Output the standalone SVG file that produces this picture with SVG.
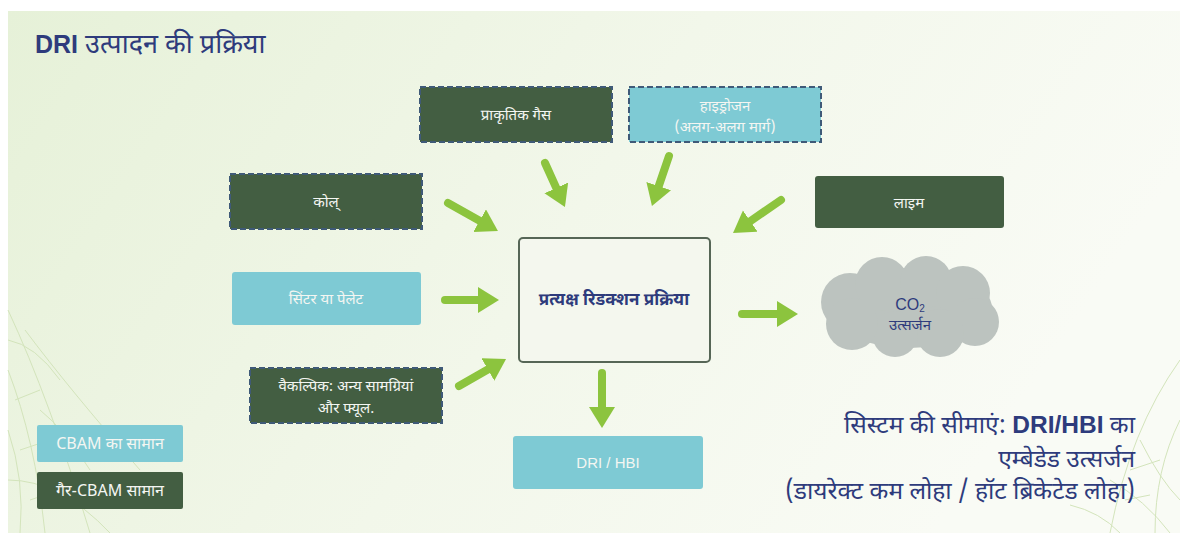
<svg xmlns="http://www.w3.org/2000/svg" width="1180" height="533" viewBox="0 0 1180 533">
<defs>
<linearGradient id="bg" x1="0" y1="0" x2="1" y2="0.3">
<stop offset="0" stop-color="#e6f1d8"/>
<stop offset="0.55" stop-color="#f2f7ea"/>
<stop offset="1" stop-color="#f9fbf5"/>
</linearGradient>
<marker id="ah" markerUnits="userSpaceOnUse" markerWidth="24" markerHeight="28" refX="1" refY="13" orient="auto">
<path d="M0,0 L21,13 L0,26 z" fill="#8cc43e"/>
</marker>
<style>
.dg{fill:#435e42}
.tl{fill:#7ecad4}
.dash{stroke:#3f5a78;stroke-width:2;stroke-dasharray:6 3}
.bt{font-family:"Noto Sans Devanagari","Noto Sans","Liberation Sans",sans-serif;font-size:15px;fill:#f4f6f2;text-anchor:middle}
.lat{font-family:"Liberation Sans",sans-serif}
.ct{font-family:"Noto Sans Devanagari","Noto Sans","Liberation Sans",sans-serif;font-size:17px;fill:#2e3b7c;text-anchor:middle;font-weight:bold}
.rt{font-family:"Noto Sans Devanagari","Noto Sans","Liberation Sans",sans-serif;font-size:24.5px;fill:#2e3b7c;text-anchor:end}
.arr{stroke:#8cc43e;stroke-width:8;stroke-linecap:round;fill:none;marker-end:url(#ah)}
.vein{stroke:#d3e4bb;stroke-width:1;fill:none}
</style>
</defs>
<rect x="0" y="0" width="1180" height="533" fill="#ffffff"/>
<rect x="8" y="11" width="1172" height="522" fill="url(#bg)"/>
<g id="veins">
<path class="vein" d="M8,310 Q50,400 90,533 M8,370 Q35,440 45,533 M8,430 Q25,480 20,533 M25,330 Q70,390 140,470 M8,480 Q60,480 110,533 M40,410 Q65,430 90,470 M8,340 Q35,345 60,380 M15,400 L40,390 M20,450 L50,440 M30,500 L60,490 M60,460 L80,445"/>
<path class="vein" d="M1180,360 Q1130,430 1110,533 M1180,420 Q1155,470 1155,533 M1140,440 Q1160,480 1180,500 M1110,480 Q1145,500 1170,533 M1070,505 Q1100,512 1120,533 M1130,470 L1160,460 M1125,500 L1150,495"/>
</g>
<g id="title">
<text x="35" y="53" font-family="Noto Sans Devanagari,'Noto Sans','Liberation Sans',sans-serif" font-size="27" fill="#2e3b7c"><tspan font-family="'Liberation Sans',sans-serif" font-weight="bold" font-size="25">DRI</tspan> उत्पादन की प्रक्रिया</text>
</g>
<g id="connectors">
<line class="arr" x1="545" y1="163" x2="556.7" y2="188.8"/>
<line class="arr" x1="669" y1="156" x2="658.4" y2="187.1"/>
<line class="arr" x1="448" y1="203" x2="480.5" y2="221.2"/>
<line class="arr" x1="781" y1="200" x2="749.5" y2="221.7"/>
<line class="arr" x1="445" y1="300" x2="479" y2="300"/>
<line class="arr" x1="459" y1="386" x2="488.7" y2="369"/>
<line class="arr" x1="602" y1="373" x2="602" y2="408"/>
<line class="arr" x1="742" y1="314" x2="778" y2="314"/>
</g>
<g id="gas">
<rect class="dg dash" x="420" y="87" width="192" height="55"/>
<text class="bt" x="516" y="120">प्राकृतिक गैस</text>
</g>
<g id="hydrogen">
<rect class="tl dash" x="629" y="87" width="192" height="55"/>
<text class="bt" x="725" y="111">हाइड्रोजन</text>
<text class="bt" x="725" y="132">(अलग-अलग मार्ग)</text>
</g>
<g id="coal">
<rect class="dg dash" x="230" y="174" width="192" height="55"/>
<text class="bt" x="326" y="207">कोल्</text>
</g>
<g id="lime">
<rect class="dg" x="815" y="176" width="189" height="52" rx="3"/>
<text class="bt" x="909" y="208">लाइम</text>
</g>
<g id="sinter">
<rect class="tl" x="232" y="272" width="189" height="53" rx="3"/>
<text class="bt" x="326" y="304">सिंटर या पेलेट</text>
</g>
<g id="process">
<rect x="519" y="238" width="191" height="124" rx="4" fill="#f4f7ee" stroke="#566656" stroke-width="2"/>
<text class="ct" x="614" y="305">प्रत्यक्ष रिडक्शन प्रक्रिया</text>
</g>
<g id="optional">
<rect class="dg dash" x="250" y="368" width="192" height="55"/>
<text class="bt" x="346" y="391">वैकल्पिक: अन्य सामग्रियां</text>
<text class="bt" x="346" y="413">और फ्यूल.</text>
</g>
<g id="drihbi">
<rect class="tl" x="513" y="436" width="190" height="53" rx="3"/>
<text class="bt lat" x="608" y="468" style="font-family:'Liberation Sans',sans-serif;font-size:15px">DRI / HBI</text>
</g>
<g id="cloud">
<g fill="#bcc3bf">
<ellipse cx="910" cy="308" rx="82" ry="40"/>
<circle cx="850" cy="302" r="29"/>
<circle cx="882" cy="284" r="27"/>
<circle cx="926" cy="282" r="26"/>
<circle cx="963" cy="293" r="27"/>
<circle cx="975" cy="322" r="24"/>
<circle cx="940" cy="333" r="24"/>
<circle cx="895" cy="334" r="23"/>
<circle cx="852" cy="324" r="26"/>
</g>
<text x="910" y="310" font-family="'Liberation Sans',sans-serif" font-size="16" fill="#2e3b7c" text-anchor="middle">CO<tspan font-size="10" dy="2">2</tspan></text>
<text x="910" y="330" font-family="Noto Sans Devanagari,'Noto Sans','Liberation Sans',sans-serif" font-size="15" fill="#2e3b7c" text-anchor="middle">उत्सर्जन</text>
</g>
<g id="legend-cbam">
<rect class="tl" x="37" y="425" width="146" height="37" rx="2"/>
<text class="bt" x="110" y="449" style="font-size:16px">CBAM का सामान</text>
</g>
<g id="legend-noncbam">
<rect class="dg" x="37" y="472" width="146" height="37" rx="2"/>
<text class="bt" x="110" y="496" style="font-size:16px">गैर-CBAM सामान</text>
</g>
<g id="boundary">
<text class="rt" x="1135" y="433"><tspan>सिस्टम की सीमाएं: </tspan><tspan font-family="'Liberation Sans',sans-serif" font-weight="bold">DRI/HBI</tspan><tspan> का</tspan></text>
<text class="rt" x="1135" y="467">एम्बेडेड उत्सर्जन</text>
<text class="rt" x="1135" y="499">(डायरेक्ट कम लोहा / हॉट ब्रिकेटेड लोहा)</text>
</g>
</svg>
